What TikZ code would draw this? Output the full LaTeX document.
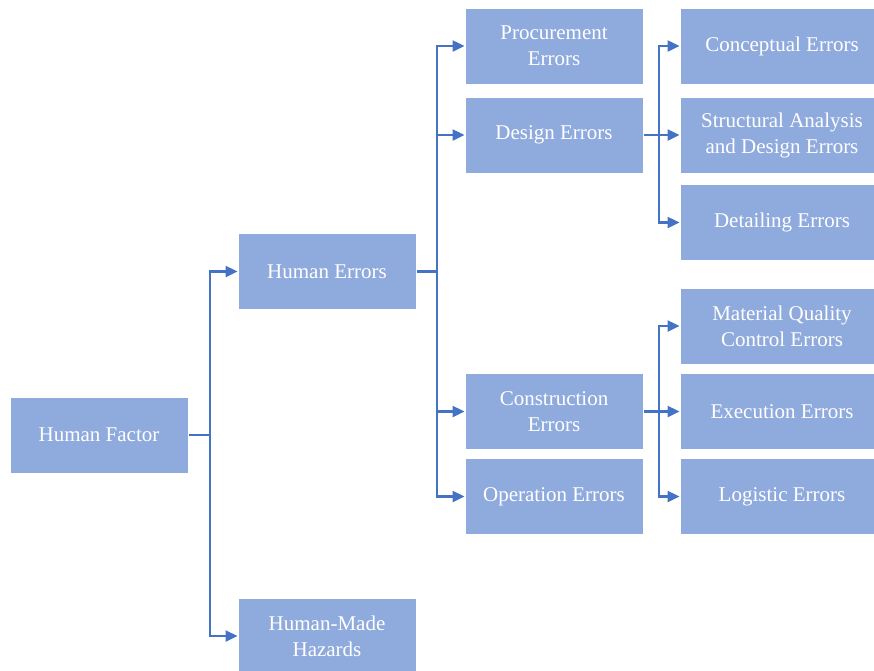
\documentclass[tikz,border=0pt]{standalone}
\usepackage{fontspec}
\setmainfont{Liberation Serif}
\usetikzlibrary{arrows.meta}
\definecolor{boxfill}{HTML}{8FAADC}
\definecolor{linecol}{HTML}{4472C4}
\tikzset{
  box/.style={rectangle, fill=boxfill, draw=white, line width=1pt, inner sep=0pt,
    minimum width=178pt, minimum height=76pt, text=white, align=center,
    font=\fontsize{21}{26}\selectfont},
  widebox/.style={box, minimum width=204pt},
  conn/.style={draw=linecol, line width=2.4pt},
  arr/.style={conn, -{Triangle[length=12pt,width=11pt]}}
}
\begin{document}
\begin{tikzpicture}[x=1pt,y=-1pt]
\useasboundingbox (0,0) rectangle (874,670);
\node[box] (hf) at (99,435) {Human Factor};
\node[box] (he) at (327,271.5) {Human Errors};
\node[box] (hz) at (327,636) {Human-Made\\Hazards};
\node[box] (pe) at (554,46) {Procurement\\Errors};
\node[box] (de) at (554,135) {Design Errors};
\node[box] (ce) at (554,411.5) {Construction\\Errors};
\node[box] (oe) at (554,496.5) {Operation Errors};
\node[widebox] (co) at (782,46) {Conceptual Errors};
\node[widebox] (sa) at (782,135) {Structural Analysis\\and Design Errors};
\node[widebox] (dt) at (782,222.5) {Detailing Errors};
\node[widebox] (mq) at (782,326) {Material Quality\\Control Errors};
\node[widebox] (ex) at (782,411.5) {Execution Errors};
\node[widebox] (lg) at (782,496.5) {Logistic Errors};
\coordinate (t1) at (210,435);
\coordinate (t2) at (437,271.5);
\coordinate (t3) at (659,135);
\coordinate (t4) at (659,411.5);
\draw[conn] (hf.east) -- (t1);
\draw[arr] (t1) |- (he.west);
\draw[arr] (t1) |- (hz.west);
\draw[conn] (he.east) -- (t2);
\draw[arr] (t2) |- (pe.west);
\draw[arr] (t2) |- (de.west);
\draw[arr] (t2) |- (ce.west);
\draw[arr] (t2) |- (oe.west);
\draw[conn] (de.east) -- (t3);
\draw[arr] (t3) |- (co.west);
\draw[arr] (t3) -- (sa.west);
\draw[arr] (t3) |- (dt.west);
\draw[conn] (ce.east) -- (t4);
\draw[arr] (t4) |- (mq.west);
\draw[arr] (t4) -- (ex.west);
\draw[arr] (t4) |- (lg.west);
\end{tikzpicture}
\end{document}
